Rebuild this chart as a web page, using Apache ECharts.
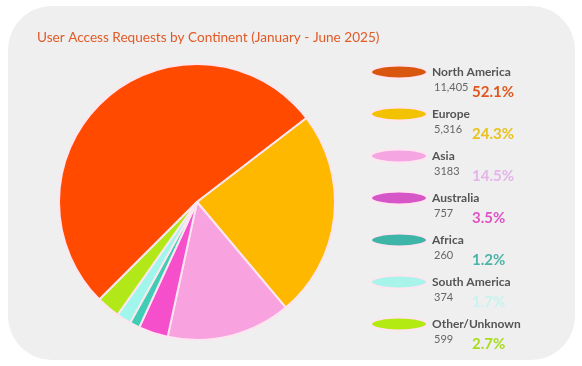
<!DOCTYPE html>
<html><head><meta charset="utf-8">
<script src="https://cdn.jsdelivr.net/npm/echarts@6/dist/echarts.min.js"></script>
<style>html,body{margin:0;padding:0;background:#fff;}#c{width:582px;height:366px;}</style>
</head><body><div id="c"></div>
<script>
const titleText = 'User Access Requests by Continent (January - June 2025)';
const categories = ['North America','Europe','Asia','Australia','Africa','South America','Other/Unknown'];
const values = [11405, 5316, 3183, 757, 260, 374, 599];
const valueLabels = ['11,405','5,316','3183','757','260','374','599'];
const percents = ['52.1%','24.3%','14.5%','3.5%','1.2%','1.7%','2.7%'];
const colors = ['#ff4a00','#ffb800','#f8a3e0','#f64fcb','#3fcdb6','#a0f6ea','#b3e818'];
const iconColors = ['#d9560e','#f2c200','#f5a6e2','#d656c8','#3fb5a8','#a8f3ea','#b3ea14'];
const pctColors = ['#e0571c','#e8c21a','#e6b3ea','#e052c6','#4cb3a8','#c8f3ee','#a8dc1c'];

const ff = 'Lato, "Open Sans", sans-serif';
const chart = echarts.init(document.getElementById('c'));
const rich = {
  v: {fontSize: 11, color: '#666', fontFamily: ff, verticalAlign: 'top', width: 38, lineHeight: 18},
};
percents.forEach((p, i) => {
  rich['p' + i] = {fontSize: 15, fontWeight: 'bold', color: pctColors[i], fontFamily: ff, verticalAlign: 'bottom', lineHeight: 18};
});
const ellipse = 'path://M0,6.5A28,6.5 0 1,1 56,6.5A28,6.5 0 1,1 0,6.5Z';
chart.setOption({
  backgroundColor: '#ffffff',
  graphic: [{
    type: 'rect', left: 8, top: 6, z: -10,
    shape: {width: 567, height: 354, r: [44, 44, 44, 44]},
    style: {fill: '#efefef'}
  }],
  title: {
    text: titleText, left: 32, top: 26,
    textStyle: {fontFamily: ff, fontSize: 13.6, fontWeight: 'normal', color: '#e05a26'}
  },
  legend: [{
    orient: 'vertical', left: 365, top: 59,
    itemWidth: 56, itemHeight: 13, itemGap: 26,
    icon: ellipse,
    data: categories.map((c, i) => ({name: c, itemStyle: {color: iconColors[i]}})),
    textStyle: {fontFamily: ff, fontSize: 12, fontWeight: 'bold', color: '#555', lineHeight: 16},
    selectedMode: false
  }, {
    orient: 'vertical', left: 368, top: 77,
    itemWidth: 56, itemHeight: 1, itemGap: 24,
    icon: 'none',
    data: categories.map((c) => ({name: c})),
    formatter: (name) => { const i = categories.indexOf(name); return '{v|' + valueLabels[i] + '}{p' + i + '|' + percents[i] + '}'; },
    textStyle: {rich: rich, lineHeight: 18},
    selectedMode: false
  }],
  series: [{
    type: 'pie',
    center: [197, 202], radius: 138,
    startAngle: 225, clockwise: true,
    label: {show: false}, labelLine: {show: false},
    itemStyle: {borderColor: '#fde6f0', borderWidth: 2},
    emphasis: {disabled: true},
    data: categories.map((c, i) => ({name: c, value: values[i], itemStyle: {color: colors[i]}}))
  }]
});
</script></body></html>
